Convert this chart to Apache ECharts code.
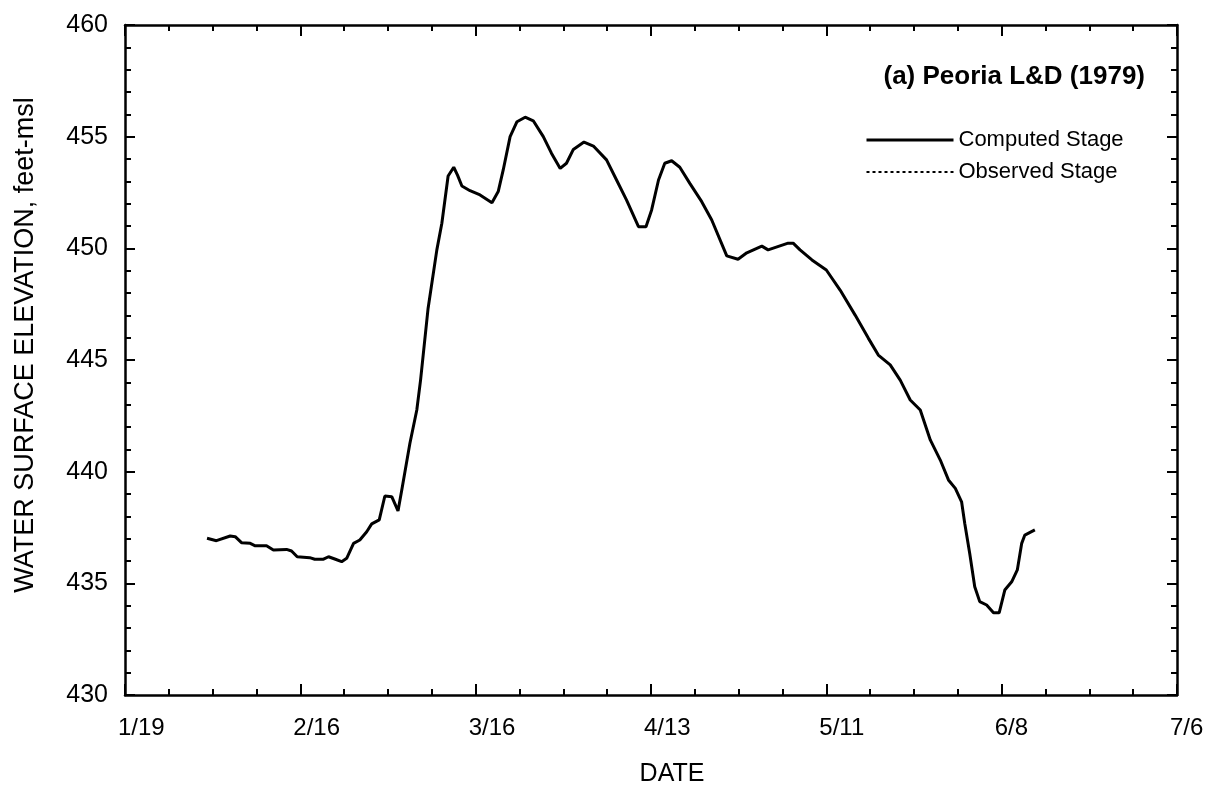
<!DOCTYPE html>
<html>
<head>
<meta charset="utf-8">
<title>Peoria L&D (1979)</title>
<script src="https://cdn.jsdelivr.net/npm/echarts@6/dist/echarts.min.js"></script>
<style>
  html, body { margin: 0; padding: 0; background: #fff; }
  #chart { width: 1217px; height: 790px; }
</style>
</head>
<body>
<div id="chart"></div>
<script>
// days counted from 1/19/1979
const dayOffsets = [
  13.1, 14.6, 16.8, 17.6, 18.6, 20.0, 20.8, 22.6, 23.7, 25.8,
  26.6, 27.5, 29.5, 30.3, 31.7, 32.5, 33.5, 34.6, 35.4, 36.5,
  37.5, 38.6, 39.4, 40.6, 41.5, 42.6, 43.6, 44.2, 45.5, 46.6,
  47.2, 48.4, 49.8, 50.6, 51.6, 52.5, 53.1, 53.8, 55.1, 56.7,
  58.6, 59.6, 60.4, 61.5, 62.6, 63.9, 65.2, 66.8, 68.1, 69.5,
  70.5, 71.6, 73.3, 74.8, 76.9, 78.5, 80.1, 82.0, 83.2, 84.1,
  85.2, 86.2, 87.3, 88.6, 90.2, 92.1, 93.7, 96.1, 97.9, 99.3,
  101.7, 102.7, 105.9, 106.7, 107.8, 109.7, 112.0, 114.2, 116.6, 118.7,
  120.3, 122.2, 123.8, 125.4, 127.0, 128.6, 130.2, 131.5, 132.6, 133.6,
  134.1, 134.9, 135.7, 136.5, 137.6, 138.7, 139.6, 140.5, 141.6, 142.5,
  143.2, 143.7, 145.3
];
const computedStage = [
  437.02, 436.91, 437.12, 437.09, 436.82, 436.79, 436.68, 436.68, 436.49, 436.52,
  436.45, 436.19, 436.15, 436.08, 436.08, 436.19, 436.09, 435.97, 436.12, 436.79,
  436.94, 437.31, 437.66, 437.84, 438.91, 438.88, 438.24, 439.18, 441.27, 442.76,
  444.10, 447.31, 449.93, 451.12, 453.24, 453.63, 453.28, 452.79, 452.58, 452.39,
  452.04, 452.54, 453.51, 455.00, 455.67, 455.87, 455.71, 455.00, 454.26, 453.58,
  453.81, 454.43, 454.76, 454.58, 453.96, 453.06, 452.16, 450.97, 450.97, 451.72,
  453.06, 453.81, 453.92, 453.63, 452.91, 452.09, 451.27, 449.66, 449.51, 449.80,
  450.10, 449.93, 450.23, 450.23, 449.93, 449.48, 449.03, 448.13, 447.01, 445.98,
  445.22, 444.78, 444.10, 443.21, 442.76, 441.42, 440.52, 439.63, 439.25, 438.65,
  437.69, 436.34, 434.85, 434.18, 434.03, 433.68, 433.68, 434.70, 435.07, 435.60,
  436.79, 437.16, 437.39
];
const observedStage = [];
const xTickLabels = ['1/19', '2/16', '3/16', '4/13', '5/11', '6/8', '7/6'];

const chart = echarts.init(document.getElementById('chart'));
const fontFamily = '"Liberation Sans", Arial, Helvetica, sans-serif';

function xAxisOf(position, extra) {
    return Object.assign({
        type: 'value',
        position: position,
        min: 0,
        max: 168,
        interval: 28,
        axisLine: { show: true, onZero: false, lineStyle: { color: '#000', width: 2.5 } },
        axisTick: { show: true, inside: true, length: 11, lineStyle: { color: '#000', width: 2 } },
        minorTick: { show: true, splitNumber: 4, length: 6, lineStyle: { color: '#000', width: 2 } },
        splitLine: { show: false },
        axisLabel: { show: false }
    }, extra || {});
}
function yAxisOf(position, extra) {
    return Object.assign({
        type: 'value',
        position: position,
        min: 430,
        max: 460,
        interval: 5,
        axisLine: { show: true, onZero: false, lineStyle: { color: '#000', width: 2.5 } },
        axisTick: { show: true, inside: true, length: 10, lineStyle: { color: '#000', width: 2 } },
        minorTick: { show: true, splitNumber: 5, length: 6, lineStyle: { color: '#000', width: 2 } },
        splitLine: { show: false },
        axisLabel: { show: false }
    }, extra || {});
}

const option = {
    animation: false,
    backgroundColor: '#fff',
    textStyle: { fontFamily: fontFamily, color: '#000' },
    title: {
        text: '(a) Peoria L&D (1979)',
        right: 72,
        top: 64,
        padding: 0,
        textStyle: { fontSize: 26, fontWeight: 'bold', color: '#000', fontFamily: fontFamily }
    },
    legend: {
        orient: 'vertical',
        left: 865,
        top: 129,
        padding: 0,
        itemGap: 10,
        itemWidth: 87,
        itemHeight: 14,
        itemStyle: { opacity: 0 },
        data: [
            { name: 'Computed Stage', lineStyle: { width: 3 } },
            { name: 'Observed Stage', lineStyle: { width: 2 } }
        ],
        textStyle: { fontSize: 22, lineHeight: 22, color: '#000', fontFamily: fontFamily }
    },
    grid: { left: 125, right: 40, top: 25, bottom: 95, outerBoundsMode: 'none' },
    xAxis: [
        xAxisOf('bottom', {
            name: 'DATE',
            nameLocation: 'middle',
            nameGap: 67,
            nameTextStyle: { fontSize: 25, color: '#000', padding: [0, 0, 0, 42] },
            axisLabel: {
                show: true,
                fontSize: 24,
                color: '#000',
                margin: 21,
                align: 'left',
                padding: [0, 0, 0, -7],
                formatter: function (v) { return xTickLabels[Math.round(v / 28)]; }
            }
        }),
        xAxisOf('top')
    ],
    yAxis: [
        yAxisOf('left', {
            name: 'WATER SURFACE ELEVATION, feet-msl',
            nameLocation: 'middle',
            nameGap: 86,
            nameTextStyle: { fontSize: 27, color: '#000', padding: [0, 0, 0, 30] },
            axisLabel: { show: true, fontSize: 25, color: '#000', margin: 17 }
        }),
        yAxisOf('right')
    ],
    series: [
        {
            name: 'Computed Stage',
            type: 'line',
            symbol: 'none',
            data: dayOffsets.map(function (d, i) { return [d, computedStage[i]]; }),
            lineStyle: { color: '#000', width: 3 },
            itemStyle: { color: '#000' }
        },
        {
            name: 'Observed Stage',
            type: 'line',
            symbol: 'none',
            data: observedStage,
            lineStyle: { color: '#000', width: 2, type: [3, 3] },
            itemStyle: { color: '#000' }
        }
    ]
};
chart.setOption(option);
</script>
</body>
</html>
